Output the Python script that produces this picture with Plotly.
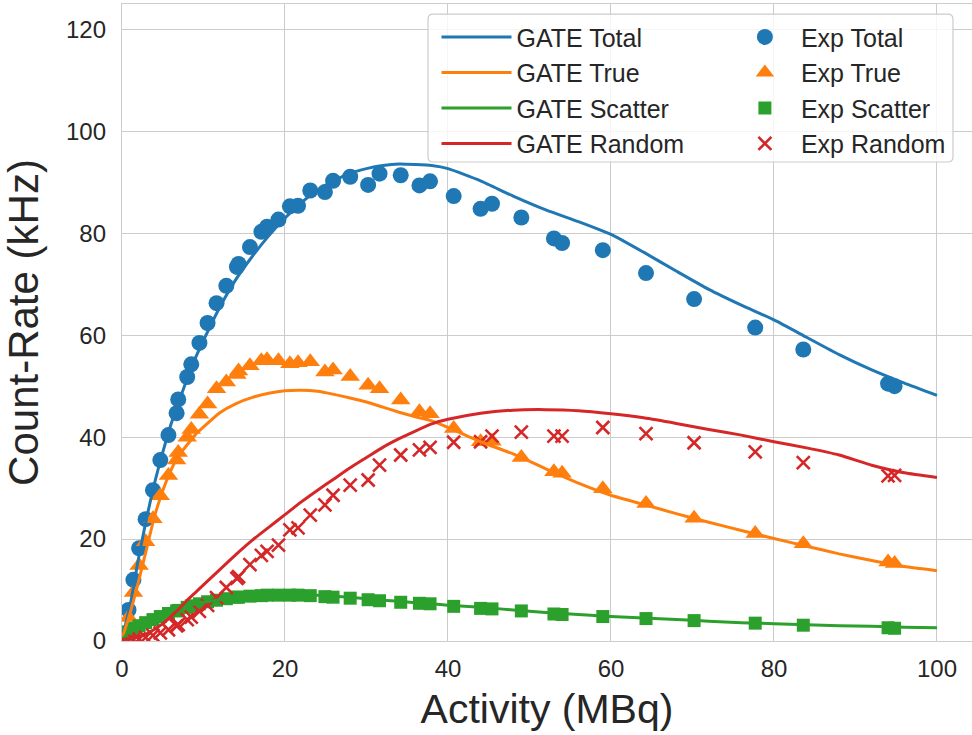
import plotly.graph_objects as go

# Measured activity points shared by all experimental series (MBq)
activity_exp = [0.8, 1.4, 2.1, 2.9, 3.8, 4.7, 5.7, 6.7, 6.9, 8.0, 8.5, 9.5, 10.5, 11.6, 12.8,
                14.1, 14.3, 15.7, 17.1, 17.8, 19.2, 20.6, 21.6, 23.1, 24.9, 25.9, 28.0, 30.2,
                31.6, 34.2, 36.5, 37.8, 40.7, 44.0, 45.4, 49.0, 53.0, 54.0, 59.0, 64.3, 70.2,
                77.7, 83.6, 94.0, 94.8]
exp_total = [6.1, 12.0, 18.2, 23.9, 29.6, 35.5, 40.4, 44.7, 47.4, 51.8, 54.3, 58.5, 62.4, 66.3,
             69.7, 73.4, 74.0, 77.3, 80.3, 81.3, 82.7, 85.3, 85.4, 88.4, 88.1, 90.3, 91.1, 89.5,
             91.7, 91.4, 89.4, 90.2, 87.3, 84.8, 85.8, 83.1, 79.0, 78.1, 76.7, 72.2, 67.1, 61.5,
             57.2, 50.5, 50.0]
exp_true = [4.6, 9.5, 14.8, 19.5, 24.0, 28.5, 32.5, 35.5, 37.0, 40.0, 41.5, 44.5, 46.5, 49.5,
            50.8, 52.3, 53.0, 54.0, 55.0, 55.2, 55.0, 54.4, 54.6, 54.8, 52.8, 53.2, 51.9, 50.2,
            49.5, 47.3, 45.0, 44.6, 41.7, 39.1, 39.2, 36.0, 33.2, 32.9, 29.9, 27.0, 24.1, 21.1,
            19.1, 15.5, 15.2]
exp_scatter = [1.8, 2.5, 3.0, 3.6, 4.2, 4.8, 5.4, 5.9, 6.0, 6.6, 6.9, 7.3, 7.7, 8.0, 8.3, 8.6,
               8.6, 8.8, 8.9, 9.0, 9.0, 9.0, 9.0, 8.9, 8.7, 8.6, 8.4, 8.1, 7.9, 7.6, 7.4, 7.3,
               6.8, 6.4, 6.3, 5.9, 5.3, 5.2, 4.8, 4.4, 4.0, 3.5, 3.1, 2.6, 2.5]
exp_random = [0.1, 0.2, 0.4, 0.7, 1.1, 1.6, 2.2, 3.0, 3.2, 4.2, 4.7, 5.8, 7.0, 8.5, 10.5, 12.3,
              12.6, 15.0, 16.8, 17.6, 18.8, 21.8, 22.2, 24.7, 26.7, 28.6, 30.6, 31.6, 34.5, 36.5,
              37.5, 38.0, 39.0, 39.1, 40.2, 41.0, 40.2, 40.2, 41.9, 40.7, 38.9, 37.1, 35.0, 32.4,
              32.5]

# Simulated (GATE) count-rate curves
activity_sim = [0, 1, 2, 3, 4, 5, 6, 7, 8, 9, 10, 12, 14, 16, 18, 20, 22, 24, 26, 28, 30, 32,
                34, 36, 38, 40, 44, 48, 52, 56, 60, 64, 68, 72, 76, 80, 84, 88, 92, 96, 100]
gate_total = [0.5, 7.0, 16.0, 24.0, 31.0, 37.0, 42.5, 47.0, 51.5, 55.5, 59.0, 65.5, 71.0, 75.5,
              79.5, 83.0, 86.0, 88.5, 90.3, 91.8, 92.7, 93.3, 93.6, 93.5, 93.3, 92.7, 90.3,
              87.3, 84.6, 82.3, 79.8, 76.3, 72.6, 69.0, 65.9, 63.0, 59.6, 56.2, 53.2, 50.6, 48.2]
gate_true = [0.5, 5.5, 11.5, 18.0, 24.5, 29.5, 33.5, 36.5, 38.5, 40.5, 42.0, 44.8, 46.6, 47.8,
             48.6, 49.1, 49.2, 49.0, 48.4, 47.7, 46.9, 45.9, 44.9, 44.0, 43.2, 41.9, 39.1,
             36.7, 33.8, 31.0, 28.6, 26.8, 25.0, 23.3, 21.7, 20.1, 18.6, 17.1, 15.8, 14.6, 13.8]
gate_scatter = [0.3, 2.0, 3.0, 3.9, 4.6, 5.3, 5.9, 6.4, 6.9, 7.3, 7.6, 8.1, 8.5, 8.8, 9.0, 9.1,
                9.1, 9.0, 8.8, 8.6, 8.3, 8.0, 7.8, 7.5, 7.3, 7.0, 6.6, 6.1, 5.6, 5.2, 4.8, 4.5,
                4.2, 3.9, 3.6, 3.4, 3.2, 3.0, 2.9, 2.7, 2.6]
gate_random = [0.3, 0.4, 0.8, 1.4, 2.3, 3.4, 4.8, 6.3, 8.0, 9.5, 11.0, 14.0, 17.0, 19.8, 22.3,
               24.8, 27.3, 29.6, 31.8, 34.0, 36.0, 38.0, 39.7, 41.2, 42.6, 43.5, 44.7, 45.3,
               45.4, 45.2, 44.6, 43.8, 42.7, 41.5, 40.4, 39.1, 37.9, 36.5, 34.5, 33.0, 32.1]

x_ticks = [0, 20, 40, 60, 80, 100]
y_ticks = [0, 20, 40, 60, 80, 100, 120]

BLUE, ORANGE, GREEN, RED = "#1f77b4", "#ff7f0e", "#2ca02c", "#d62728"
FONT = "Liberation Sans, Arial, sans-serif"
TXT = "#262626"
GRID = "#cccccc"

fig = go.Figure()

# Experimental points
exp_specs = [
    ("Exp Total", exp_total, BLUE, "circle", 16),
    ("Exp True", exp_true, ORANGE, "triangle-up", 17),
    ("Exp Scatter", exp_scatter, GREEN, "square", 13),
]
for name, ys, col, sym, size in exp_specs:
    fig.add_trace(go.Scatter(
        x=activity_exp, y=ys, mode="markers", name=name, legend="legend2",
        marker=dict(color=col, symbol=sym, size=size, line=dict(width=0)),
    ))
fig.add_trace(go.Scatter(
    x=activity_exp, y=exp_random, mode="markers", name="Exp Random", legend="legend2",
    marker=dict(color=RED, symbol="x-thin", size=13, line=dict(width=2.6, color=RED)),
))

# Simulation curves
for name, ys, col in [("GATE Total", gate_total, BLUE), ("GATE True", gate_true, ORANGE),
                      ("GATE Scatter", gate_scatter, GREEN), ("GATE Random", gate_random, RED)]:
    fig.add_trace(go.Scatter(
        x=activity_sim, y=ys, mode="lines", name=name, legend="legend",
        line=dict(color=col, width=3, shape="spline", smoothing=0.5),
    ))

# Shared rounded frame behind both legend columns
x0, x1, y0, y1 = 0.36, 0.9776, 0.752, 0.984
rx, ry = 0.006, 0.008
frame_path = (f"M{x0+rx},{y0} L{x1-rx},{y0} Q{x1},{y0} {x1},{y0+ry} L{x1},{y1-ry} "
              f"Q{x1},{y1} {x1-rx},{y1} L{x0+rx},{y1} Q{x0},{y1} {x0},{y1-ry} "
              f"L{x0},{y0+ry} Q{x0},{y0} {x0+rx},{y0} Z")

legend_common = dict(
    bgcolor="rgba(0,0,0,0)", borderwidth=0, font=dict(family=FONT, size=25, color=TXT),
    xanchor="left", yanchor="top", tracegroupgap=0,
)

axis_common = dict(
    showgrid=True, gridcolor=GRID, gridwidth=1.3, zeroline=False,
    showline=True, linecolor=GRID, linewidth=1.3, mirror=True,
    ticks="", tickfont=dict(family=FONT, size=24, color=TXT),
)

fig.update_layout(
    width=972, height=735,
    margin=dict(l=122, r=0, t=4, b=94),
    paper_bgcolor="white", plot_bgcolor="white",
    font=dict(family=FONT, color=TXT),
    showlegend=True,
    legend=dict(x=0.370, y=0.984, itemwidth=70, **legend_common),
    legend2=dict(x=0.714, y=0.984, itemwidth=62, **legend_common),
    shapes=[dict(type="path", path=frame_path, xref="paper", yref="paper",
                 line=dict(color=GRID, width=1.2), fillcolor="rgba(255,255,255,0.8)",
                 layer="above")],
    xaxis=dict(range=[0, 104.3], tickvals=x_ticks, ticklabelstandoff=6,
               title=dict(text="Activity (MBq)", font=dict(family=FONT, size=41, color=TXT),
                          standoff=13),
               **axis_common),
    yaxis=dict(range=[0, 125], tickvals=y_ticks, ticklabelstandoff=10,
               title=dict(text="Count-Rate (kHz)", font=dict(family=FONT, size=42, color=TXT),
                          standoff=14),
               **axis_common),
)

fig.write_html("out.html")
